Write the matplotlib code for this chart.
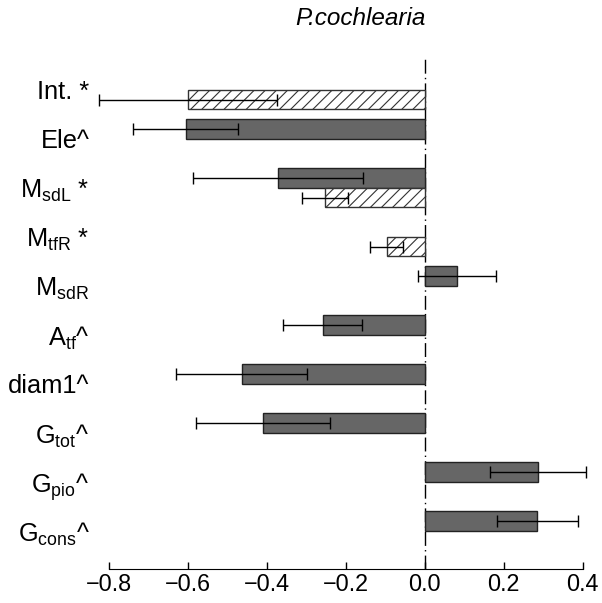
import matplotlib
matplotlib.use("Agg")
import matplotlib.pyplot as plt
import numpy as np

plt.rcParams['font.family'] = 'Liberation Sans'
plt.rcParams['mathtext.fontset'] = 'custom'
plt.rcParams['mathtext.rm'] = 'Liberation Sans'
plt.rcParams['mathtext.it'] = 'Liberation Sans:italic'
plt.rcParams['hatch.linewidth'] = 0.8
plt.rcParams['hatch.color'] = '#555555'

labels = ["Int. *", "Ele^", r"M$_{\rm sdL}$ *", r"M$_{\rm tfR}$ *", r"M$_{\rm sdR}$",
          r"A$_{\rm tf}$^", "diam1^", r"G$_{\rm tot}$^", r"G$_{\rm pio}$^", r"G$_{\rm cons}$^"]
# solid (dark) series
dark = [np.nan, -0.606, -0.372, np.nan, 0.081, -0.259, -0.464, -0.409, 0.287, 0.285]
dark_err = [np.nan, 0.133, 0.215, np.nan, 0.099, 0.100, 0.165, 0.170, 0.121, 0.102]
# hatched series
hatched = [-0.600, np.nan, -0.253, -0.097, np.nan, np.nan, np.nan, np.nan, np.nan, np.nan]
hatched_err = [0.225, np.nan, 0.059, 0.041, np.nan, np.nan, np.nan, np.nan, np.nan, np.nan]

fig = plt.figure(figsize=(6.02, 6.03), dpi=100)
ax = fig.add_axes([0.181, 0.0564, 0.787, 0.851])

y = np.arange(len(labels))
h = 0.4
ax.barh(y - h/2, dark, height=h, color='#666666', edgecolor='#222222', linewidth=1)
ax.barh(y + h/2, hatched, height=h, color='white', edgecolor='#333333', linewidth=1, hatch='///')
for vals, errs, off in [(dark, dark_err, -h/2), (hatched, hatched_err, h/2)]:
    eb = ax.errorbar(vals, y + off, xerr=errs, fmt='none', ecolor='black', elinewidth=1, capsize=4)
    for art in eb.lines[1] + eb.lines[2]:
        art.set_clip_on(False)

ax.axvline(0, color='black', linewidth=1, linestyle=(0, (10, 3, 1, 3)), zorder=0)

ax.set_xlim(-0.8, 0.4)
ax.set_ylim(9.776, -0.694)
ax.set_yticks(y)
ax.set_yticklabels(labels)
ax.set_xticks([-0.8, -0.6, -0.4, -0.2, 0.0, 0.2, 0.4])
ax.set_xticklabels(["\u22120.8", "\u22120.6", "\u22120.4", "\u22120.2", "0.0", "0.2", "0.4"])
ax.tick_params(axis='y', length=0, pad=14, labelsize=18.3)
ax.tick_params(axis='x', length=5, width=1, labelsize=16.8, direction='in', pad=3)
for s in ['top', 'right', 'left']:
    ax.spines[s].set_visible(False)

fig.text(0.598, 0.97, "P.cochlearia", fontsize=17.5, style='italic', ha='center', va='center')

fig.savefig("out.png", dpi=100)
